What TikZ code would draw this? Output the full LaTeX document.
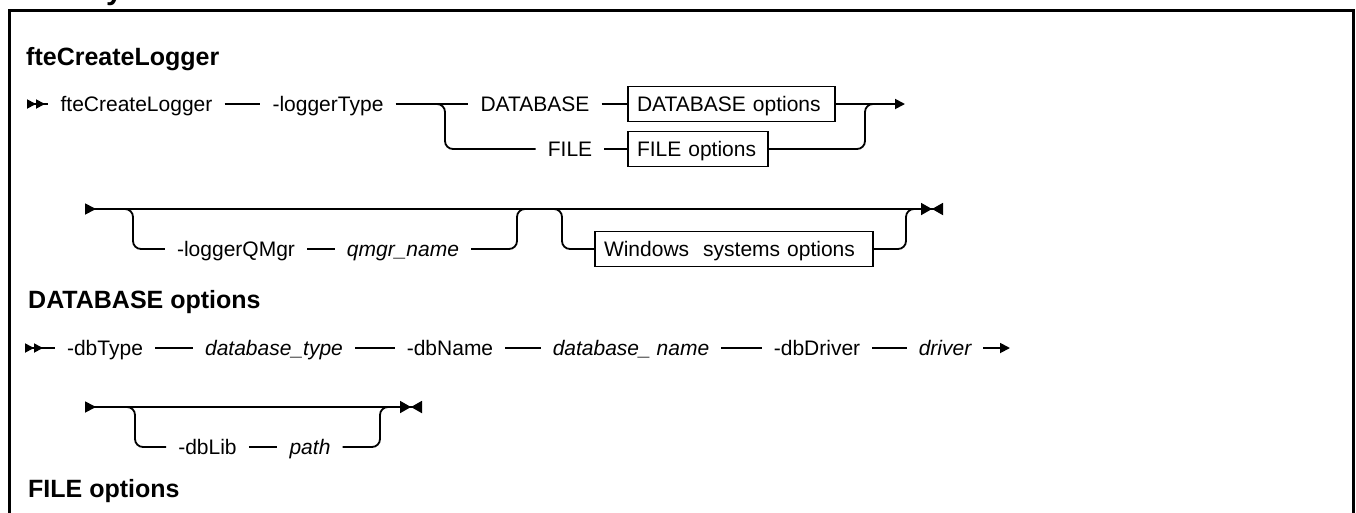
\documentclass[tikz,border=0pt]{standalone}
\usepackage{fontspec}
\setmainfont{Liberation Sans}
\usetikzlibrary{arrows.meta}

\begin{document}
\begin{tikzpicture}[x=1pt,y=-1pt,font=\fontsize{21}{25}\selectfont,
  >={Triangle[length=10pt,width=10pt]},
  kw/.style={inner xsep=12pt,inner ysep=2pt,text height=15pt,text depth=0pt},
  var/.style={kw,font=\fontsize{21}{25}\selectfont\itshape},
  ref/.style={draw,line width=1.6pt,inner xsep=9pt,inner ysep=10pt,text height=15pt,text depth=0pt,align=left},
  head/.style={anchor=base west,inner sep=0pt,font=\fontsize{25}{30}\selectfont\bfseries},
  ln/.style={line width=1.8pt},
  figframe/.style={line width=3pt}]

\useasboundingbox (0,0) rectangle (1356,512);
\clip (0,0) rectangle (1356,512);

% frame, open at the bottom
\draw[figframe] (9,530) -- (9,10.5) -- (1353.5,10.5) -- (1353.5,530);
\node[head,font=\fontsize{30}{36}\selectfont\bfseries] (hsyn) at (86,-1) {Syntax};

% fteCreateLogger
\node[head] (hcmd) at (26,65) {fteCreateLogger};

\coordinate (r1s) at (27,104);
\node[kw] (cmd) at (136.5,104) {fteCreateLogger};
\node[kw] (ltype) at (328,104) {-loggerType};
\coordinate (r1b) at (445,104);
\node[kw] (dbkw) at (535,104) {DATABASE};
\node[kw] (filekw) at (570,149) {FILE};
\node[ref,text width=189pt] (dbopt) at (731.5,104) {DATABASE options};
\node[ref,text width=122pt] (fileopt) at (698,149) {FILE options};
\coordinate (r1j) at (865,104);
\coordinate (r1e) at (905,104);

\draw[ln,{Triangle[reversed,length=9pt,width=9pt]Triangle[reversed,length=9pt,width=9pt]}-] (r1s) -- (cmd);
\draw[ln] (cmd) -- (ltype);
\draw[ln] (ltype) -- (dbkw);
\draw[ln,rounded corners=8pt] ([xshift=-8pt]r1b) -| (r1b |- filekw) -- (filekw);
\draw[ln] (dbkw) -- (dbopt);
\draw[ln] (filekw) -- (fileopt);
\draw[ln,->] (dbopt) -- (r1e);
\draw[ln,rounded corners=8pt] (fileopt) -| (r1j) -- +(8,0);

\coordinate (r2s) at (85,209);
\coordinate (r2b) at (133,209);
\node[kw] (qmkw) at (236,249) {-loggerQMgr};
\node[var] (qmname) at (403,249) {qmgr\_name};
\coordinate (r2j) at (517,209);
\coordinate (r2c) at (562,209);
\node[ref,text width=260pt] (winopt) at (734,249) {Windows~ systems options};
\coordinate (r2k) at (906,209);
\coordinate (r2e) at (943,209);

\draw[ln,{Triangle[reversed,length=11pt,width=11pt]}-{Triangle[length=11pt,width=12pt]Triangle[reversed,length=11pt,width=12pt]}] (r2s) -- (r2e);
\draw[ln,rounded corners=8pt] ([xshift=-8pt]r2b) -| (r2b |- qmkw) -- (qmkw);
\draw[ln] (qmkw) -- (qmname);
\draw[ln,rounded corners=8pt] (qmname) -| (r2j) -- +(8,0);
\draw[ln,rounded corners=8pt] ([xshift=-8pt]r2c) -| (r2c |- winopt) -- (winopt);
\draw[ln,rounded corners=8pt] (winopt) -| (r2k) -- +(8,0);

% DATABASE options
\node[head] (hdb) at (28,308) {DATABASE options};

\coordinate (r3s) at (25,348);
\node[kw] (dbtype) at (105,348) {-dbType};
\node[var] (dbtypev) at (274,348) {database\_type};
\node[kw] (dbname) at (450,348) {-dbName};
\node[var] (dbnamev) at (631,348) {database\_ name};
\node[kw] (dbdrv) at (817,348) {-dbDriver};
\node[var] (drv) at (945,348) {driver};
\coordinate (r3e) at (1010,348);

\draw[ln,{Triangle[reversed,length=9pt,width=9pt]Triangle[reversed,length=9pt,width=9pt]}-] (r3s) -- (dbtype);
\draw[ln] (dbtype) -- (dbtypev);
\draw[ln] (dbtypev) -- (dbname);
\draw[ln] (dbname) -- (dbnamev);
\draw[ln] (dbnamev) -- (dbdrv);
\draw[ln] (dbdrv) -- (drv);
\draw[ln,->] (drv) -- (r3e);

\coordinate (r4s) at (85,407);
\coordinate (r4b) at (135,407);
\node[kw] (dblib) at (207.5,447) {-dbLib};
\node[var] (pathv) at (310,447) {path};
\coordinate (r4j) at (380,407);
\coordinate (r4e) at (422,407);

\draw[ln,{Triangle[reversed,length=11pt,width=11pt]}-{Triangle[length=11pt,width=12pt]Triangle[reversed,length=11pt,width=12pt]}] (r4s) -- (r4e);
\draw[ln,rounded corners=8pt] ([xshift=-8pt]r4b) -| (r4b |- dblib) -- (dblib);
\draw[ln] (dblib) -- (pathv);
\draw[ln,rounded corners=8pt] (pathv) -| (r4j) -- +(8,0);

% FILE options
\node[head] (hfile) at (28,497) {FILE options};
\end{tikzpicture}
\end{document}
